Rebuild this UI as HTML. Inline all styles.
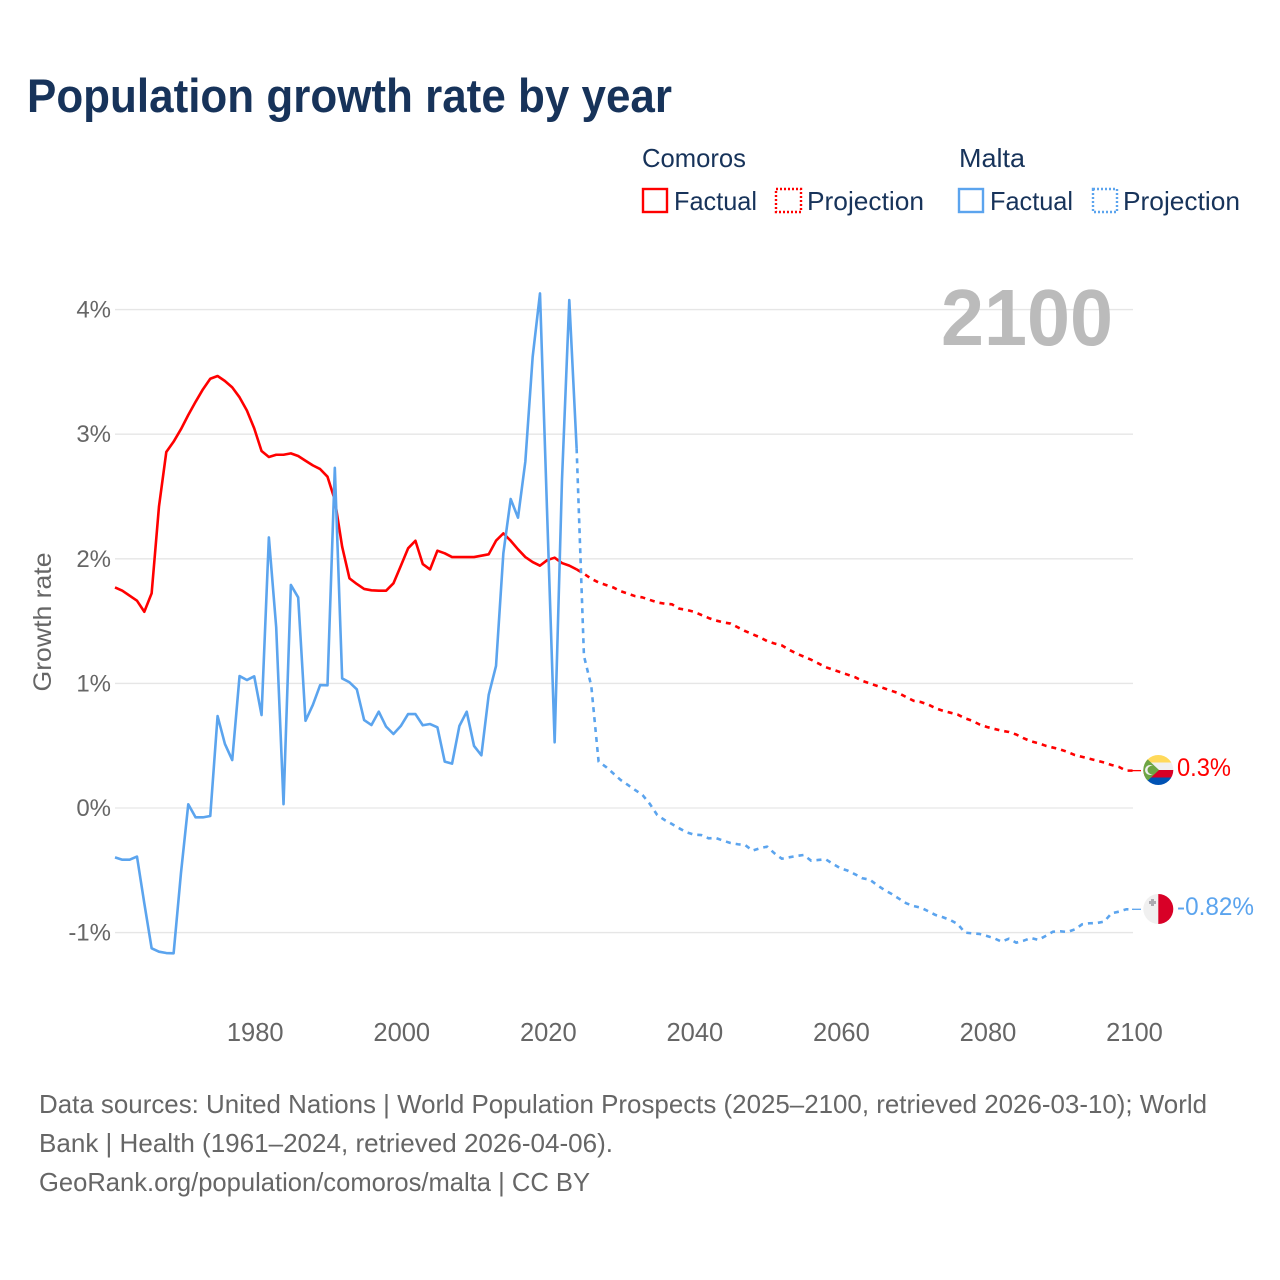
<!DOCTYPE html>
<html lang="en">
<head>
<meta charset="utf-8">
<title>Population growth rate by year</title>
<style>
html,body{margin:0;padding:0;background:#fff;}
svg{display:block;font-family:"Liberation Sans",sans-serif;}
</style>
</head>
<body>
<svg id="chart" xmlns="http://www.w3.org/2000/svg" width="1280" height="1280" viewBox="0 0 1280 1280">
  <defs>
    <clipPath id="clip-comoros"><circle cx="1158.3" cy="770" r="15"/></clipPath>
    <clipPath id="clip-malta"><circle cx="1158.3" cy="909" r="15"/></clipPath>
  </defs>
  <rect width="1280" height="1280" fill="#fff"/>
  <text x="27" y="112" font-size="47" font-weight="700" fill="#17335a" textLength="645" lengthAdjust="spacingAndGlyphs">Population growth rate by year</text>

  <g font-size="26" fill="#17335a">
    <text x="642" y="167" textLength="104" lengthAdjust="spacingAndGlyphs">Comoros</text>
    <text x="959" y="167" textLength="66" lengthAdjust="spacingAndGlyphs">Malta</text>
    <g>
      <rect x="643" y="189" width="24" height="23" fill="none" stroke="#ff0000" stroke-width="2.4"/>
      <text x="674" y="210" textLength="83" lengthAdjust="spacingAndGlyphs">Factual</text>
    </g>
    <g>
      <rect x="776" y="189" width="25" height="23" fill="none" stroke="#ff0000" stroke-width="2.4" stroke-dasharray="2 2"/>
      <text x="807" y="210" textLength="117" lengthAdjust="spacingAndGlyphs">Projection</text>
    </g>
    <g>
      <rect x="959" y="189" width="24" height="23" fill="none" stroke="#5ba4ee" stroke-width="2.4"/>
      <text x="990" y="210" textLength="83" lengthAdjust="spacingAndGlyphs">Factual</text>
    </g>
    <g>
      <rect x="1093" y="189" width="24" height="23" fill="none" stroke="#5ba4ee" stroke-width="2.4" stroke-dasharray="2 2"/>
      <text x="1123" y="210" textLength="117" lengthAdjust="spacingAndGlyphs">Projection</text>
    </g>
  </g>

  <g id="grid"></g>
  <g id="ytickgroup"></g>
  <g id="xtickgroup"></g>
  <text transform="translate(51,622) rotate(-90)" text-anchor="middle" font-size="25" fill="#666" textLength="139" lengthAdjust="spacingAndGlyphs">Growth rate</text>
  <text x="941" y="345" font-size="80" font-weight="700" fill="#bbbbbb" textLength="172" lengthAdjust="spacingAndGlyphs">2100</text>

  <g id="series"></g>

  <g clip-path="url(#clip-comoros)">
    <rect x="1143" y="755" width="31" height="8" fill="#ffd95a"/>
    <rect x="1143" y="762.5" width="31" height="7.5" fill="#f0f0f0"/>
    <rect x="1143" y="770" width="31" height="7.5" fill="#d80027"/>
    <rect x="1143" y="777.5" width="31" height="8" fill="#0052b4"/>
    <path d="M1143 755 L1159 770 L1143 785 Z" fill="#6da544"/>
    <circle cx="1150" cy="770" r="5" fill="#f0f0f0"/>
    <circle cx="1151.8" cy="770" r="4.3" fill="#6da544"/>
  </g>
  <g clip-path="url(#clip-malta)">
    <rect x="1143" y="894" width="15.5" height="30" fill="#f0f0f0"/>
    <rect x="1158.3" y="894" width="16" height="30" fill="#d80027"/>
    <path d="M1151 899 h3 v2 h2 v3 h-2 v2 h-3 v-2 h-2 v-3 h2 Z" fill="#acabb1"/>
  </g>
  <text x="1177" y="776" font-size="25" fill="#ff0000" textLength="54" lengthAdjust="spacingAndGlyphs">0.3%</text>
  <text x="1177" y="915" font-size="25" fill="#5ba4ee" textLength="77" lengthAdjust="spacingAndGlyphs">-0.82%</text>

  <g font-size="26" fill="#666">
    <text x="39" y="1113" textLength="1168" lengthAdjust="spacingAndGlyphs">Data sources: United Nations | World Population Prospects (2025–2100, retrieved 2026-03-10); World</text>
    <text x="39" y="1152" textLength="574" lengthAdjust="spacingAndGlyphs">Bank | Health (1961–2024, retrieved 2026-04-06).</text>
    <text x="39" y="1191" textLength="551" lengthAdjust="spacingAndGlyphs">GeoRank.org/population/comoros/malta | CC BY</text>
  </g>
</svg>
<script>
const yTicks = [-1, 0, 1, 2, 3, 4];
const xTicks = [1980, 2000, 2020, 2040, 2060, 2080, 2100];
const factualStartYear = 1961;
const projectionStartYear = 2024;

const comorosFactual = [
  1.77, 1.744, 1.704, 1.664, 1.575, 1.723, 2.418, 2.857, 2.94, 3.04,
  3.154, 3.26, 3.36, 3.445, 3.467, 3.427, 3.376, 3.296, 3.19, 3.047,
  2.865, 2.817, 2.835, 2.835, 2.846, 2.825, 2.787, 2.75, 2.72, 2.659,
  2.472, 2.097, 1.843, 1.798, 1.758, 1.747, 1.744, 1.744, 1.803, 1.942,
  2.084, 2.145, 1.958, 1.915, 2.065, 2.044, 2.014, 2.014, 2.014, 2.014,
  2.025, 2.036, 2.145, 2.204, 2.145, 2.076, 2.014, 1.974, 1.945, 1.99,
  2.009, 1.966, 1.945, 1.915
];
const comorosProjection = [
  1.915, 1.88, 1.84, 1.81, 1.79, 1.77, 1.74, 1.72, 1.70, 1.69, 1.67,
  1.65, 1.64, 1.635, 1.60, 1.59, 1.575, 1.55, 1.525, 1.505, 1.49,
  1.48, 1.45, 1.42, 1.395, 1.37, 1.34, 1.32, 1.305, 1.27, 1.24,
  1.215, 1.19, 1.16, 1.13, 1.11, 1.09, 1.07, 1.05, 1.02, 1.00,
  0.98, 0.96, 0.94, 0.92, 0.89, 0.86, 0.85, 0.83, 0.80, 0.78,
  0.765, 0.75, 0.72, 0.70, 0.67, 0.65, 0.635, 0.62, 0.61, 0.59,
  0.56, 0.535, 0.52, 0.50, 0.485, 0.47, 0.45, 0.425, 0.41, 0.395,
  0.38, 0.365, 0.345, 0.33, 0.30, 0.30
];
const maltaFactual = [
  -0.396, -0.415, -0.415, -0.39, -0.765, -1.126, -1.153, -1.164, -1.166, -0.524,
  0.03, -0.075, -0.075, -0.064, 0.738, 0.514, 0.385, 1.059, 1.027, 1.057,
  0.746, 2.172, 1.45, 0.03, 1.79, 1.69, 0.70, 0.827, 0.987, 0.985,
  2.73, 1.04, 1.009, 0.953, 0.706, 0.666, 0.773, 0.653, 0.594, 0.658,
  0.754, 0.754, 0.664, 0.674, 0.648, 0.372, 0.356, 0.658, 0.773, 0.498,
  0.423, 0.907, 1.14, 2.044, 2.48, 2.33, 2.78, 3.62, 4.13, 2.32,
  0.527, 2.63, 4.077, 2.887
];
const maltaProjection = [
  2.887, 1.22, 0.98, 0.372, 0.33, 0.278, 0.225, 0.185, 0.144, 0.104, 0.032,
  -0.056, -0.096, -0.128, -0.163, -0.195, -0.214, -0.217, -0.243, -0.241, -0.262,
  -0.281, -0.291, -0.297, -0.342, -0.323, -0.31, -0.364, -0.407, -0.396, -0.385,
  -0.377, -0.423, -0.417, -0.412, -0.449, -0.484, -0.503, -0.532, -0.564, -0.575,
  -0.618, -0.658, -0.69, -0.728, -0.765, -0.787, -0.80, -0.829, -0.859, -0.877,
  -0.899, -0.931, -1.0, -1.006, -1.011, -1.027, -1.046, -1.073, -1.049, -1.081,
  -1.065, -1.043, -1.059, -1.027, -0.993, -0.99, -0.995, -0.974, -0.933, -0.925,
  -0.923, -0.912, -0.845, -0.832, -0.813, -0.813
];

const NS = 'http://www.w3.org/2000/svg';
function xScale(year) { return 115 + (year - 1961) * (1133.5 - 115) / 139; }
function yScale(v) { return 808 - v * 124.6; }

function linePath(values, startYear) {
  return values.map(function (v, i) {
    return (i ? 'L' : 'M') + xScale(startYear + i).toFixed(2) + ' ' + yScale(v).toFixed(2);
  }).join(' ');
}

const grid = document.getElementById('grid');
const yGroup = document.getElementById('ytickgroup');
const xGroup = document.getElementById('xtickgroup');
const seriesGroup = document.getElementById('series');

yTicks.forEach(function (t) {
  const l = document.createElementNS(NS, 'line');
  
  
  l.setAttribute('x1', 115);
  l.setAttribute('x2', 1133);
  l.setAttribute('y1', yScale(t));
  l.setAttribute('y2', yScale(t));
  l.setAttribute('stroke', '#e6e6e6');
  l.setAttribute('stroke-width', '1.33');
  grid.appendChild(l);

  const lab = document.createElementNS(NS, 'text');
  
  
  lab.setAttribute('x', 111);
  lab.setAttribute('y', yScale(t) + 8);
  lab.setAttribute('text-anchor', 'end');
  lab.setAttribute('font-size', '24');
  lab.setAttribute('fill', '#666');
  lab.textContent = t + '%';
  yGroup.appendChild(lab);
});

xTicks.forEach(function (t) {
  const lab = document.createElementNS(NS, 'text');
  
  
  lab.setAttribute('x', xScale(t) + 1);
  lab.setAttribute('y', 1041);
  lab.setAttribute('text-anchor', 'middle');
  lab.setAttribute('font-size', '25.5');
  lab.setAttribute('fill', '#666');
  lab.textContent = t;
  xGroup.appendChild(lab);
});

function drawSeries(name, values, startYear, color, dashed) {
  const p = document.createElementNS(NS, 'path');
  
  
  p.setAttribute('d', linePath(values, startYear));
  p.setAttribute('fill', 'none');
  p.setAttribute('stroke', color);
  p.setAttribute('stroke-width', '2.6');
  p.setAttribute('stroke-linejoin', 'round');
  if (dashed) p.setAttribute('stroke-dasharray', '5 5');
  seriesGroup.appendChild(p);
}

function drawConnector(name, lastValue, color) {
  const c = document.createElementNS(NS, 'line');
  
  
  c.setAttribute('x1', xScale(2100) - 1.5);
  c.setAttribute('x2', 1141);
  c.setAttribute('y1', yScale(lastValue));
  c.setAttribute('y2', yScale(lastValue));
  c.setAttribute('stroke', color);
  c.setAttribute('stroke-width', '1.3');
  seriesGroup.appendChild(c);
}

drawSeries('comoros-factual-line', comorosFactual, factualStartYear, '#ff0000', false);
drawSeries('comoros-projection-line', comorosProjection, projectionStartYear, '#ff0000', true);
drawSeries('malta-factual-line', maltaFactual, factualStartYear, '#5ba4ee', false);
drawSeries('malta-projection-line', maltaProjection, projectionStartYear, '#5ba4ee', true);
drawConnector('comoros-end-connector', comorosProjection[comorosProjection.length - 1], '#ff0000');
drawConnector('malta-end-connector', maltaProjection[maltaProjection.length - 1], '#5ba4ee');
</script>
</body>
</html>
